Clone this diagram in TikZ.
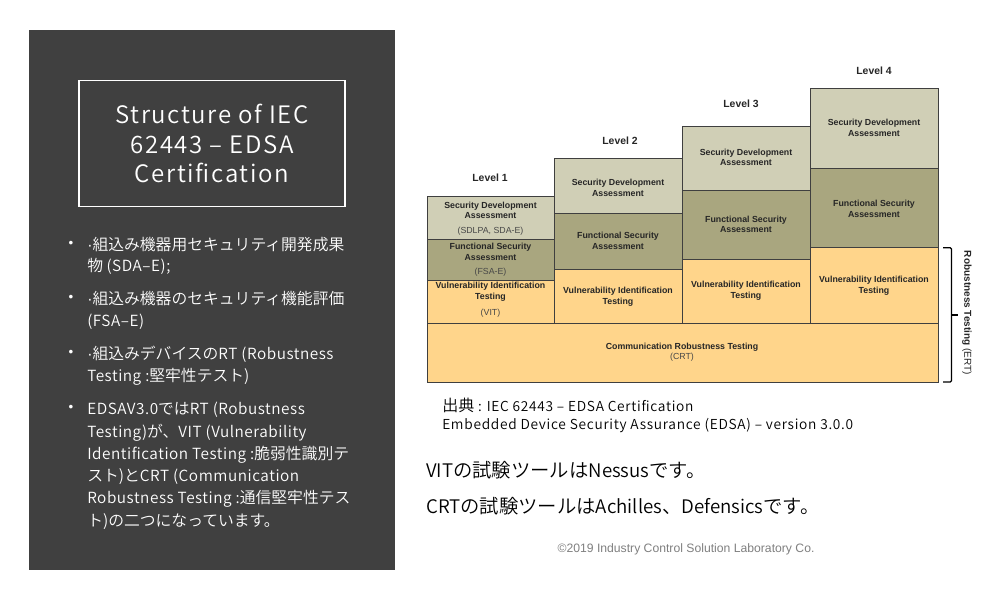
\documentclass[tikz,border=0pt]{standalone}
\usepackage{fontspec}
\setmainfont{Noto Sans CJK JP DemiLight}
\newfontfamily\lab{Liberation Sans}
\newfontfamily\lgt{Noto Sans CJK JP DemiLight}
\newfontfamily\lsT[LetterSpace=6.8]{Noto Sans CJK JP DemiLight}
\newfontfamily\lsB[LetterSpace=3.5]{Noto Sans CJK JP DemiLight}
\newfontfamily\lsS[LetterSpace=5.2]{Noto Sans CJK JP DemiLight}
\newcommand{\bdl}[1]{{\lsB\fontsize{11.5}{14}\selectfont #1}}
\newcommand{\srl}[1]{{\lsS\fontsize{10.3}{12}\selectfont #1}}
\newcommand{\rlt}[1]{{\lgt\fontsize{14}{15}\selectfont #1}}
\definecolor{panel}{HTML}{404040}
\definecolor{sda}{HTML}{D0CFB6}
\definecolor{fsa}{HTML}{A9A67F}
\definecolor{vit}{HTML}{FFD58B}
\definecolor{edge}{HTML}{3F3F3F}
\definecolor{ink}{HTML}{262626}
\tikzset{
 x=0.75pt,y=-0.75pt,
 sdabox/.style={fill=sda,draw=edge,line width=0.6pt},
 fsabox/.style={fill=fsa,draw=edge,line width=0.6pt},
 vitbox/.style={fill=vit,draw=edge,line width=0.6pt},
 boxlab/.style={font=\lab\bfseries\fontsize{6.6}{7.9}\selectfont,align=center,text=ink,inner sep=0pt},
 sublab/.style={font=\lab\fontsize{6.6}{8}\selectfont,text=ink!85,inner sep=0pt},
 levlab/.style={font=\lab\bfseries\fontsize{7.8}{9}\selectfont,text=ink,inner sep=0pt},
 pl/.style={anchor=base west,text=white,inner sep=0pt,font=\lgt\fontsize{11.85}{14}\selectfont},
 dot/.style={anchor=center,text=white,inner sep=0pt,font=\lab\fontsize{10}{12}\selectfont},
 rl/.style={anchor=base west,text=black,inner sep=0pt},
}
\begin{document}
\begin{tikzpicture}
\useasboundingbox (0,0) rectangle (1000,600);
\fill[white] (0,0) rectangle (1000,600);
\fill[panel] (29,30) rectangle (395,570);
\node[draw=white,line width=0.8pt,minimum width=199.5pt,minimum height=94pt,inner sep=0pt,anchor=center,text=white,align=center,
 font=\lsT\fontsize{18}{22.4}\selectfont] (title) at (212,143.5) {Structure of IEC\\62443 – EDSA\\Certification};
% bullets
\node[dot] (b1) at (71,244) {•};
\node[dot] (b2) at (71,298) {•};
\node[dot] (b3) at (71,353) {•};
\node[dot] (b4) at (71,408) {•};
\node[pl] (t1) at (87,250) {{\lab ·}組込み機器用セキュリティ開発成果};
\node[pl] (t2) at (87,271) {物 \bdl{(SDA–E);}};
\node[pl] (t3) at (87,304) {{\lab ·}組込み機器のセキュリティ機能評価};
\node[pl] (t4) at (87,326) {\bdl{(FSA–E)}};
\node[pl] (t5) at (87,359) {{\lab ·}組込みデバイスの\bdl{RT (Robustness}};
\node[pl] (t6) at (87,381) {\bdl{Testing :}堅牢性テスト)};
\node[pl] (t7) at (87,414) {\bdl{EDSAV3.0}では\bdl{RT (Robustness}};
\node[pl] (t8) at (87,437) {\bdl{Testing)}が、\bdl{VIT (Vulnerability}};
\node[pl] (t9) at (87,459) {\bdl{Identification Testing :}脆弱性識別テ};
\node[pl] (t10) at (87,481) {スト)と\bdl{CRT (Communication}};
\node[pl] (t11) at (87,503) {\bdl{Robustness Testing :}通信堅牢性テス};
\node[pl] (t12) at (87,526) {ト)の二つになっています。};
% staircase
\draw[sdabox] (427,196.7) rectangle (554.7,239);
\draw[fsabox] (427,239) rectangle (554.7,280.5);
\draw[vitbox] (427,280.5) rectangle (554.7,323);
\draw[sdabox] (554.7,158.3) rectangle (682.5,213);
\draw[fsabox] (554.7,213) rectangle (682.5,269.7);
\draw[vitbox] (554.7,269.7) rectangle (682.5,323);
\draw[sdabox] (682.5,126) rectangle (810.5,190);
\draw[fsabox] (682.5,190) rectangle (810.5,259.3);
\draw[vitbox] (682.5,259.3) rectangle (810.5,323);
\draw[sdabox] (810.5,88.3) rectangle (938.5,168.3);
\draw[fsabox] (810.5,168.3) rectangle (938.5,247.7);
\draw[vitbox] (810.5,247.7) rectangle (938.5,323);
\draw[vitbox] (427,323) rectangle (938.5,382);
% level labels
\node[levlab] (l1) at (490,178) {Level 1};
\node[levlab] (l2) at (620,141) {Level 2};
\node[levlab] (l3) at (741,104) {Level 3};
\node[levlab] (l4) at (874,71) {Level 4};
% box labels
\node[boxlab] (a1) at (490.5,210.5) {Security Development\\Assessment};
\node[sublab] (a1s) at (490.5,231.7) {(SDLPA, SDA-E)};
\node[boxlab] (b1l) at (490.5,252) {Functional Security\\Assessment};
\node[sublab] (b1s) at (490.5,272.7) {(FSA-E)};
\node[boxlab] (c1) at (490.5,292) {Vulnerability Identification\\Testing};
\node[sublab] (c1s) at (490.5,313) {(VIT)};
\node[boxlab] (a2) at (618,188) {Security Development\\Assessment};
\node[boxlab] (b2l) at (618,241) {Functional Security\\Assessment};
\node[boxlab] (c2) at (618,296.5) {Vulnerability Identification\\Testing};
\node[boxlab] (a3) at (746,157.5) {Security Development\\Assessment};
\node[boxlab] (b3l) at (746,224.5) {Functional Security\\Assessment};
\node[boxlab] (c3) at (746,291) {Vulnerability Identification\\Testing};
\node[boxlab] (a4) at (874,128) {Security Development\\Assessment};
\node[boxlab] (b4l) at (874,209) {Functional Security\\Assessment};
\node[boxlab] (c4) at (874,286) {Vulnerability Identification\\Testing};
\node[boxlab] (crt) at (682,347) {Communication Robustness Testing};
\node[sublab] (crts) at (682,357.7) {(CRT)};
% bracket
\coordinate (brA) at (943,247.7);
\coordinate (brB) at (951.5,247.7);
\coordinate (brC) at (951.5,382);
\coordinate (brD) at (943,382);
\coordinate (brM) at (951.5,315);
\coordinate (brT) at (958,315);
\draw[black,line width=0.9pt,rounded corners=1pt] (brA) -- (brB) -- (brC) -- (brD);
\draw[black,line width=0.9pt] (brM) -- (brT);
\node[rotate=-90,inner sep=0pt,anchor=center,text=ink,font=\lab\fontsize{7.5}{9}\selectfont] (ert) at (967,313) {\bfseries Robustness Testing \mdseries(ERT)};
% source and remarks
\node[rl,font=\fontsize{12}{14}\selectfont] (s1) at (442,411) {出典\srl{ : IEC 62443 – EDSA Certification}};
\node[rl] (s2) at (442,429) {\srl{Embedded Device Security Assurance (EDSA) – version 3.0.0}};
\node[rl,font=\fontsize{14.5}{17}\selectfont] (r1) at (426,477.5) {\rlt{VIT}の試験ツールは\rlt{Nessus}です。};
\node[rl,font=\fontsize{14.5}{17}\selectfont] (r2) at (426,513.5) {\rlt{CRT}の試験ツールは\rlt{Achilles}、\rlt{Defensics}です。};
\node[inner sep=0pt,text=black!50,font=\lab\fontsize{9.14}{11}\selectfont] (cp) at (686,549) {©2019 Industry Control Solution Laboratory Co.};
\end{tikzpicture}
\end{document}
